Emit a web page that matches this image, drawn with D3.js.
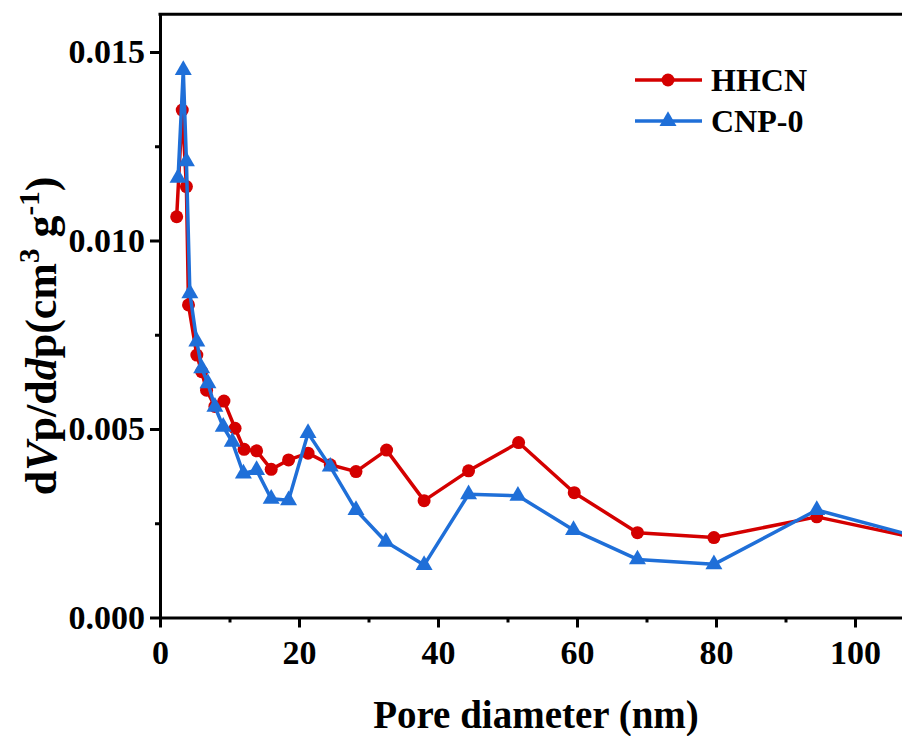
<!DOCTYPE html>
<html lang="en">
  <head>
    <meta charset="UTF-8">
    <script type="text/javascript" src="https://cdn.jsdelivr.net/npm/d3@7"></script>
    <style>
      body { margin: 0; background: #fff; }
      svg text { font-family: "Liberation Serif", Tinos, Times, "DejaVu Serif", serif !important; font-weight: bold; }
    </style>
    <title>Pore size distribution</title>
  </head>
  <body>
    <script type="text/javascript">
      // BJH pore size distribution, two samples

      let w = 902;
      let h = 736;

      let hhcnX = [2.4, 3.2, 3.8, 4.1, 5.3, 6.0, 6.7, 7.9, 9.2, 10.8, 12.1, 13.9, 16.0, 18.5, 21.3,
                   24.5, 28.2, 32.6, 38.0, 44.4, 51.6, 59.6, 68.7, 79.7, 94.5, 110];
      let hhcnY = [0.01063, 0.01346, 0.01143, 0.00829, 0.00696, 0.00652, 0.00603, 0.0056, 0.00574,
                   0.00502, 0.00446, 0.00442, 0.00393, 0.00418, 0.00436, 0.00405, 0.00387, 0.00444,
                   0.0031, 0.00389, 0.00464, 0.00331, 0.00225, 0.00212, 0.00267, 0.00206];

      let cnpX = [2.6, 3.35, 3.8, 4.3, 5.3, 6.0, 6.9, 7.9, 9.1, 10.4, 12.0, 13.9, 16.0, 18.5, 21.3,
                  24.5, 28.2, 32.5, 38.0, 44.4, 51.5, 59.5, 68.7, 79.7, 94.5, 110];
      let cnpY = [0.01166, 0.01452, 0.0121, 0.0086, 0.00732, 0.00661, 0.00621, 0.00559, 0.00506,
                  0.00466, 0.00382, 0.00391, 0.00315, 0.00311, 0.00489, 0.004, 0.00285, 0.00201,
                  0.00139, 0.00327, 0.00323, 0.00232, 0.00154, 0.00141, 0.00285, 0.00209];

      let xTicks = [0, 20, 40, 60, 80, 100];
      let yTicks = [0.000, 0.005, 0.010, 0.015];

      let red = '#d40000';
      let blue = '#1f6fd8';

      let xScale = d3.scaleLinear().domain([0, 110]).range([160, 160 + 110 * 6.95]);
      let yScale = d3.scaleLinear().domain([0, 0.016]).range([617.5, 14.3]);

      let svg = d3.select('body').append('svg')
                  .attr('width', w)
                  .attr('height', h);

      let series = [
        { name: 'HHCN', x: hhcnX, y: hhcnY, color: red, shape: 'circle' },
        { name: 'CNP-0', x: cnpX, y: cnpY, color: blue, shape: 'triangle' }
      ];

      let line = d3.line().x(d => xScale(d[0])).y(d => yScale(d[1]));
      let tri = d3.symbol().type(d3.symbolTriangle).size(125);

      series.forEach(s => {
        let pts = s.x.map((x, i) => [x, s.y[i]]);
        svg.append('path')
           .datum(pts)
           .attr('d', line)
           .attr('fill', 'none')
           .attr('stroke', s.color)
           .attr('stroke-width', 3.5)
           .attr('stroke-linejoin', 'round');
        if (s.shape === 'circle') {
          svg.selectAll(null).data(pts).enter().append('circle')
             .attr('cx', d => xScale(d[0]))
             .attr('cy', d => yScale(d[1]))
             .attr('r', 6.5)
             .attr('fill', s.color);
        } else {
          svg.selectAll(null).data(pts).enter().append('path')
             .attr('d', tri)
             .attr('transform', d => 'translate(' + xScale(d[0]) + ',' + yScale(d[1]) + ')')
             .attr('fill', s.color);
        }
      });

      // Axes
      svg.append('g')
         .attr('transform', 'translate(0,' + yScale(0) + ')')
         .call(d3.axisBottom(xScale).tickValues(xTicks).tickSize(10).tickSizeOuter(0).tickPadding(12));
      svg.append('g')
         .attr('transform', 'translate(0,' + yScale(0) + ')')
         .call(d3.axisBottom(xScale).tickValues(d3.range(10, 110, 20)).tickSize(5).tickFormat(''))
         .call(g => g.select('.domain').remove());

      svg.append('g')
         .attr('transform', 'translate(' + xScale(0) + ',0)')
         .call(d3.axisLeft(yScale).tickValues(yTicks).tickFormat(d3.format('.3f'))
               .tickSize(10).tickSizeOuter(0).tickPadding(5));
      svg.append('g')
         .attr('transform', 'translate(' + xScale(0) + ',0)')
         .call(d3.axisLeft(yScale).tickValues([0.0025, 0.0075, 0.0125]).tickSize(5).tickFormat(''))
         .call(g => g.select('.domain').remove());

      svg.selectAll('.domain, .tick line')
         .attr('stroke', '#000')
         .attr('stroke-width', 3);

      // top border
      svg.append('line')
         .attr('x1', xScale(0) - 1.5).attr('x2', w)
         .attr('y1', yScale(0.016)).attr('y2', yScale(0.016))
         .attr('stroke', '#000').attr('stroke-width', 3);

      svg.selectAll('.tick text')
         .attr('font-size', 34)
         .attr('fill', '#000');

      // Axis titles
      svg.append('text')
         .attr('x', 536).attr('y', 728)
         .attr('text-anchor', 'middle')
         .attr('font-size', 39)
         .text('Pore diameter (nm)');

      let yt = svg.append('text')
                  .attr('transform', 'translate(56,336) rotate(-90)')
                  .attr('text-anchor', 'middle')
                  .attr('font-size', 44);
      yt.append('tspan').text('d');
      yt.append('tspan').attr('font-style', 'italic').text('V');
      yt.append('tspan').text('p/d');
      yt.append('tspan').attr('font-style', 'italic').text('d');
      yt.append('tspan').text('p(cm');
      yt.append('tspan').attr('font-size', 29).attr('dy', -17).text('3');
      yt.append('tspan').attr('dy', 17).text(' g');
      yt.append('tspan').attr('font-size', 29).attr('dy', -17).text('-1');
      yt.append('tspan').attr('dy', 17).text(')');

      // Legend
      let legend = svg.append('g');
      series.forEach((s, i) => {
        let ly = 80 + i * 41;
        legend.append('line')
              .attr('x1', 635).attr('x2', 702)
              .attr('y1', ly).attr('y2', ly)
              .attr('stroke', s.color).attr('stroke-width', 3.5);
        if (s.shape === 'circle') {
          legend.append('circle').attr('cx', 668).attr('cy', ly).attr('r', 6.5).attr('fill', s.color);
        } else {
          legend.append('path').attr('d', tri)
                .attr('transform', 'translate(668,' + ly + ')').attr('fill', s.color);
        }
        legend.append('text')
              .attr('x', 711).attr('y', ly + 11)
              .attr('font-size', 32)
              .text(s.name);
      });
    </script>
  </body>
</html>
